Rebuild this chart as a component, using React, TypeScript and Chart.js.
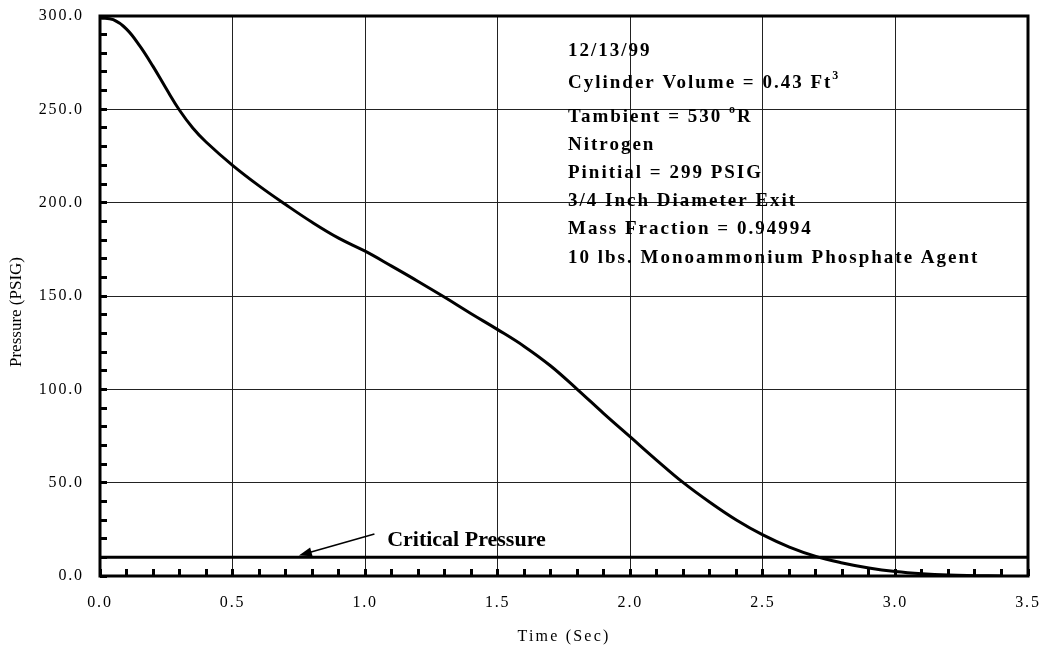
import { useEffect, useRef } from "react";
import { Chart, registerables } from "chart.js";

Chart.register(...registerables);

// Blow-down of the nitrogen-pressurised extinguisher cylinder
const timeSec = [
  0, 0.05, 0.1, 0.15, 0.2, 0.25, 0.3, 0.35, 0.4, 0.5, 0.6, 0.7, 0.8, 0.9, 1.0,
  1.1, 1.2, 1.3, 1.4, 1.5, 1.6, 1.7, 1.8, 1.9, 2.0, 2.1, 2.2, 2.3, 2.4, 2.5,
  2.6, 2.7, 2.8, 2.9, 3.0, 3.1, 3.2, 3.3, 3.4,
];
const pressurePsig = [
  299, 298, 293, 284, 273, 261, 249.5, 240, 232.5, 220, 209, 199, 189.5,
  181, 174, 166, 157.8, 149.3, 140.5, 132, 123, 112.5, 100, 87, 74.5, 62, 50,
  39.5, 30, 22, 15.5, 10.5, 7, 4.3, 2.4, 1.2, 0.5, 0.2, 0,
];

const criticalPsig = 10;
const timeRange = [0, 3.5];
const pressureRange = [0, 300];

const xTitle = "Time (Sec)";
const yTitle = "Pressure (PSIG)";
const criticalLabel = "Critical Pressure";

// Test conditions block (segments with a superscript flag)
const infoLines: { text: string; sup?: boolean }[][] = [
  [{ text: "12/13/99" }],
  [{ text: "Cylinder Volume = 0.43 Ft" }, { text: "3", sup: true }],
  [{ text: "Tambient = 530 " }, { text: "o", sup: true }, { text: "R" }],
  [{ text: "Nitrogen" }],
  [{ text: "Pinitial = 299 PSIG" }],
  [{ text: "3/4 Inch Diameter Exit" }],
  [{ text: "Mass Fraction = 0.94994" }],
  [{ text: "10 lbs. Monoammonium Phosphate Agent" }],
];

const SERIF = '"Liberation Serif", "Times New Roman", Times, serif';

const isMultiple = (v: number, step: number) =>
  Math.abs(v / step - Math.round(v / step)) < 1e-6;

// keep the plot box fixed: the scale size is set here and the label
// overhang is not allowed to push the chart area inwards
const fixScale = (size: { width?: number; height?: number }) => (s: any) => {
  if (size.width !== undefined) s.width = size.width;
  if (size.height !== undefined) s.height = size.height;
  s.paddingTop = 0;
  s.paddingBottom = 0;
  s.paddingLeft = 0;
  s.paddingRight = 0;
};

const overlay = {
  id: "overlay",
  beforeDraw(chart: any) {
    chart.ctx.letterSpacing = "1.8px";
  },
  afterDraw(chart: any) {
    const { ctx, chartArea: a, scales } = chart;
    const xs = scales.x;
    const ys = scales.y;

    ctx.save();
    // plot frame
    ctx.strokeStyle = "#000";
    ctx.lineWidth = 3;
    ctx.strokeRect(a.left, a.top, a.right - a.left, a.bottom - a.top);

    ctx.fillStyle = "#000";

    // axis titles
    ctx.letterSpacing = "2.2px";
    ctx.font = `16px ${SERIF}`;
    ctx.textAlign = "center";
    ctx.textBaseline = "middle";
    ctx.fillText(xTitle, (a.left + a.right) / 2, 637);

    ctx.letterSpacing = "0px";
    ctx.save();
    ctx.translate(17, (a.top + a.bottom) / 2 + 16);
    ctx.rotate(-Math.PI / 2);
    ctx.font = `17px ${SERIF}`;
    ctx.fillText(yTitle, 0, 0);
    ctx.restore();

    // conditions block
    ctx.textAlign = "left";
    ctx.textBaseline = "alphabetic";
    ctx.letterSpacing = "2px";
    const left = xs.getPixelForValue(1.765);
    const baselines = [40, 72, 106, 134, 162, 190, 218, 247];
    infoLines.forEach((segs, i) => {
      let x = left;
      const y = a.top + baselines[i];
      segs.forEach((s) => {
        ctx.font = s.sup ? `bold 12px ${SERIF}` : `bold 19px ${SERIF}`;
        const dy = s.sup ? -9 : 0;
        ctx.fillText(s.text, x, y + dy);
        x += ctx.measureText(s.text).width;
      });
    });

    // critical pressure callout
    ctx.letterSpacing = "0px";
    ctx.font = `bold 22px ${SERIF}`;
    ctx.fillText(criticalLabel, xs.getPixelForValue(1.083), ys.getPixelForValue(16));

    const tx = xs.getPixelForValue(0.75);
    const ty = ys.getPixelForValue(11);
    const sx = xs.getPixelForValue(1.035);
    const sy = ys.getPixelForValue(22.5);
    const ang = Math.atan2(ty - sy, tx - sx);
    ctx.lineWidth = 1.5;
    ctx.beginPath();
    ctx.moveTo(sx, sy);
    ctx.lineTo(tx - Math.cos(ang) * 10, ty - Math.sin(ang) * 10);
    ctx.stroke();
    ctx.beginPath();
    ctx.moveTo(tx, ty);
    ctx.lineTo(
      tx - Math.cos(ang) * 13 + Math.sin(ang) * 4.5,
      ty - Math.sin(ang) * 13 - Math.cos(ang) * 4.5
    );
    ctx.lineTo(
      tx - Math.cos(ang) * 13 - Math.sin(ang) * 4.5,
      ty - Math.sin(ang) * 13 + Math.cos(ang) * 4.5
    );
    ctx.closePath();
    ctx.fill();
    ctx.restore();
  },
};

export default function App() {
  const canvasRef = useRef<HTMLCanvasElement | null>(null);

  useEffect(() => {
    const canvas = canvasRef.current;
    if (!canvas) return;

    const curve = timeSec.map((t, i) => ({ x: t, y: pressurePsig[i] }));
    const critical = timeRange.map((t) => ({ x: t, y: criticalPsig }));

    const chart = new Chart(canvas, {
      type: "line",
      data: {
        datasets: [
          {
            label: "Pressure",
            data: curve,
            borderColor: "#000",
            borderWidth: 3,
            pointRadius: 0,
            tension: 0.4,
            fill: false,
          },
          {
            label: "Critical Pressure",
            data: critical,
            borderColor: "#000",
            borderWidth: 3,
            pointRadius: 0,
            fill: false,
          },
        ],
      },
      options: {
        animation: false,
        responsive: false,
        devicePixelRatio: 1,
        layout: { padding: { left: 0, top: 16, right: 16, bottom: 0 } },
        plugins: {
          legend: { display: false },
          tooltip: { enabled: false },
        },
        scales: {
          x: {
            type: "linear",
            min: timeRange[0],
            max: timeRange[1],
            border: { display: false },
            grid: {
              color: (c: any) =>
                isMultiple(c.tick.value, 0.5) ? "#222" : "rgba(0,0,0,0)",
              lineWidth: 1,
              drawTicks: true,
              tickLength: -7,
              tickWidth: 3,
              tickColor: "#000",
            },
            ticks: {
              stepSize: 0.1,
              autoSkip: false,
              maxRotation: 0,
              minRotation: 0,
              padding: 24.4,
              color: "#000",
              font: { family: SERIF, size: 16 },
              callback: (v: any) =>
                isMultiple(Number(v), 0.5) ? Number(v).toFixed(1) : "",
            },
            afterFit: fixScale({ height: 73 }),
          },
          y: {
            type: "linear",
            min: pressureRange[0],
            max: pressureRange[1],
            border: { display: false },
            grid: {
              color: (c: any) =>
                isMultiple(c.tick.value, 50) ? "#222" : "rgba(0,0,0,0)",
              lineWidth: 1,
              drawTicks: true,
              tickLength: -7,
              tickWidth: 3,
              tickColor: "#000",
            },
            ticks: {
              stepSize: 10,
              autoSkip: false,
              padding: 23.2,
              color: "#000",
              font: { family: SERIF, size: 16 },
              callback: (v: any) =>
                isMultiple(Number(v), 50) ? Number(v).toFixed(1) : "",
            },
            afterFit: fixScale({ width: 100 }),
          },
        },
      },
      plugins: [overlay],
    });

    return () => chart.destroy();
  }, []);

  return (
    <div style={{ position: "absolute", left: 0, top: 0, width: 1044, height: 649, background: "#fff" }}>
      <canvas ref={canvasRef} width={1044} height={649} />
    </div>
  );
}
